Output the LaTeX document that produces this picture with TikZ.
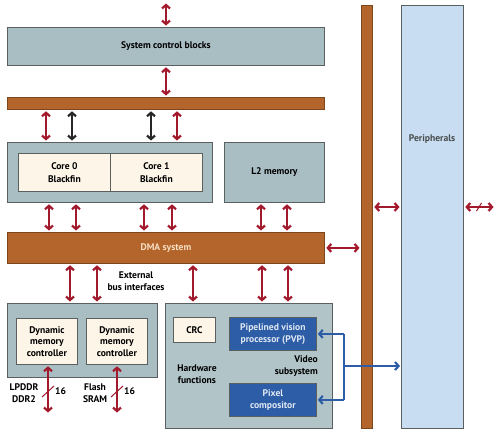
\documentclass[tikz,border=0pt]{standalone}
\usepackage{fontspec}
\setmainfont{PT Sans}
\usetikzlibrary{arrows.meta}
\definecolor{boxgray}{HTML}{A9BEC3}
\definecolor{hwgray}{HTML}{B1C5C9}
\definecolor{busor}{HTML}{B3652B}
\definecolor{cream}{HTML}{FDF6E8}
\definecolor{peri}{HTML}{C8DDF1}
\definecolor{arrred}{HTML}{A3192C}
\definecolor{dblue}{HTML}{2C5DA6}
\definecolor{edge}{HTML}{5A5F60}
\definecolor{dmatext}{HTML}{F7DDC2}
\tikzset{
  blk/.style={draw=edge, line width=0.8pt, anchor=north west, inner sep=0pt, align=center, font=\bfseries\fontsize{9.6}{11.5}\selectfont},
  graybox/.style={blk, fill=boxgray},
  busbar/.style={blk, fill=busor, draw=busor!70!black},
  creambox/.style={blk, fill=cream},
  bluebox/.style={blk, fill=dblue, text=white!85!dblue},
  lbl/.style={inner sep=0pt, align=center, font=\bfseries\fontsize{9.6}{11.5}\selectfont},
  rarrow/.style={draw=arrred, line width=2.6pt, shorten <=1.5pt, shorten >=1.5pt, {Straight Barb[length=3.5pt,width=8pt,line width=2.2pt]}-{Straight Barb[length=3.5pt,width=8pt,line width=2.2pt]}},
  karrow/.style={rarrow, draw=black!85},
  barrow/.style={draw=dblue, line width=2.4pt, shorten >=1pt, -{Straight Barb[length=3.5pt,width=8pt,line width=2.2pt]}},
  bline/.style={draw=dblue, line width=2.4pt},
}
\begin{document}
\begin{tikzpicture}[x=1pt,y=-1pt]
\useasboundingbox (0,0) rectangle (500,437);
% blocks
\node[graybox, minimum width=317pt, minimum height=38pt] (scb) at (7,27) {System control blocks};
\node[busbar, minimum width=317pt, minimum height=12pt] (bus1) at (7,97) {};
\node[graybox, minimum width=205pt, minimum height=60pt] (cores) at (7,142) {};
\node[creambox, minimum width=92pt, minimum height=38pt] (core0) at (18,153) {Core 0\\[1pt]Blackfin};
\node[creambox, minimum width=92pt, minimum height=38pt] (core1) at (110,153) {Core 1\\[1pt]Blackfin};
\node[graybox, minimum width=100pt, minimum height=60pt] (l2) at (224,142) {L2 memory};
\node[busbar, minimum width=317pt, minimum height=31pt, text=dmatext] (dma) at (7,232) {DMA system};
\node[busbar, minimum width=11pt, minimum height=423pt] (vbar) at (361,5) {};
\node[blk, fill=peri, minimum width=62pt, minimum height=423pt] (periph) at (401,5) {};
\node[lbl, text=edge!80!black] (perilbl) at (432,139) {Peripherals};
\node[graybox, minimum width=150pt, minimum height=74pt] (mem) at (7,303) {};
\node[creambox, minimum width=61pt, minimum height=46pt] (dmc1) at (16,318) {Dynamic\\memory\\controller};
\node[creambox, minimum width=61pt, minimum height=46pt] (dmc2) at (86,318) {Dynamic\\memory\\controller};
\node[blk, fill=hwgray, minimum width=167pt, minimum height=125pt] (hw) at (165,303) {};
\node[creambox, minimum width=42pt, minimum height=25pt] (crc) at (173,317) {CRC};
\node[bluebox, minimum width=87pt, minimum height=33pt] (pvp) at (229,317) {Pipelined vision\\processor (PVP)};
\node[bluebox, minimum width=87pt, minimum height=33pt] (pix) at (229,383) {Pixel\\compositor};
% labels
\node[lbl] (ebi) at (136,281) {External\\bus interfaces};
\node[lbl] (hwf) at (197,374) {Hardware\\functions};
\node[lbl, align=right, anchor=east] (vid) at (318,366) {Video\\subsystem};
\node[lbl] (lp) at (24,393) {LPDDR\\DDR2};
\node[lbl] (fl) at (95,393) {Flash\\SRAM};
\node[lbl, anchor=west] (n16a) at (55,391) {16};
\node[lbl, anchor=west] (n16b) at (124,391) {16};
% coordinates
\coordinate (topend) at (166,2);
\coordinate (ext) at (495,207);
\coordinate (m1end) at (48,414);
\coordinate (m2end) at (117,414);
\coordinate (bx) at (344,366);
% red arrows
\draw[rarrow] (scb.north -| topend) -- (topend);
\draw[rarrow] (scb.south -| topend) -- (bus1.north -| topend);
\draw[rarrow] (bus1.south -| 46,0) -- (cores.north -| 46,0);
\draw[karrow] (bus1.south -| 72,0) -- (cores.north -| 72,0);
\draw[karrow] (bus1.south -| 151,0) -- (cores.north -| 151,0);
\draw[rarrow] (bus1.south -| 177,0) -- (cores.north -| 177,0);
\draw[rarrow] (cores.south -| 49,0) -- (dma.north -| 49,0);
\draw[rarrow] (cores.south -| 76,0) -- (dma.north -| 76,0);
\draw[rarrow] (cores.south -| 144,0) -- (dma.north -| 144,0);
\draw[rarrow] (cores.south -| 172,0) -- (dma.north -| 172,0);
\draw[rarrow] (l2.south -| 261,0) -- (dma.north -| 261,0);
\draw[rarrow] (l2.south -| 287,0) -- (dma.north -| 287,0);
\draw[rarrow] (dma.south -| 70,0) -- (mem.north -| 70,0);
\draw[rarrow] (dma.south -| 97,0) -- (mem.north -| 97,0);
\draw[rarrow] (dma.south -| 193,0) -- (hw.north -| 193,0);
\draw[rarrow] (dma.south -| 262,0) -- (hw.north -| 262,0);
\draw[rarrow] (dma.south -| 288,0) -- (hw.north -| 288,0);
\draw[rarrow] (dma.east) -- (dma.east -| vbar.west);
\draw[rarrow] (vbar.east |- ext) -- (periph.west |- ext);
\draw[rarrow] (periph.east |- ext) -- (ext);
\draw[draw=arrred, line width=1pt] (476.5,211) -- (481.5,203);
\draw[rarrow] (dmc1.south -| m1end) -- (m1end);
\draw[rarrow] (dmc2.south -| m2end) -- (m2end);
\draw[draw=arrred, line width=1pt] (42,397) -- (54,386);
\draw[draw=arrred, line width=1pt] (111,397) -- (123,386);
% blue connectors
\draw[bline] (pvp.east -| bx) -- (pix.east -| bx);
\draw[barrow] (pvp.east -| bx) -- (pvp.east);
\draw[barrow] (pix.east -| bx) -- (pix.east);
\draw[barrow] (bx) -- (bx -| periph.west);
\end{tikzpicture}
\end{document}
